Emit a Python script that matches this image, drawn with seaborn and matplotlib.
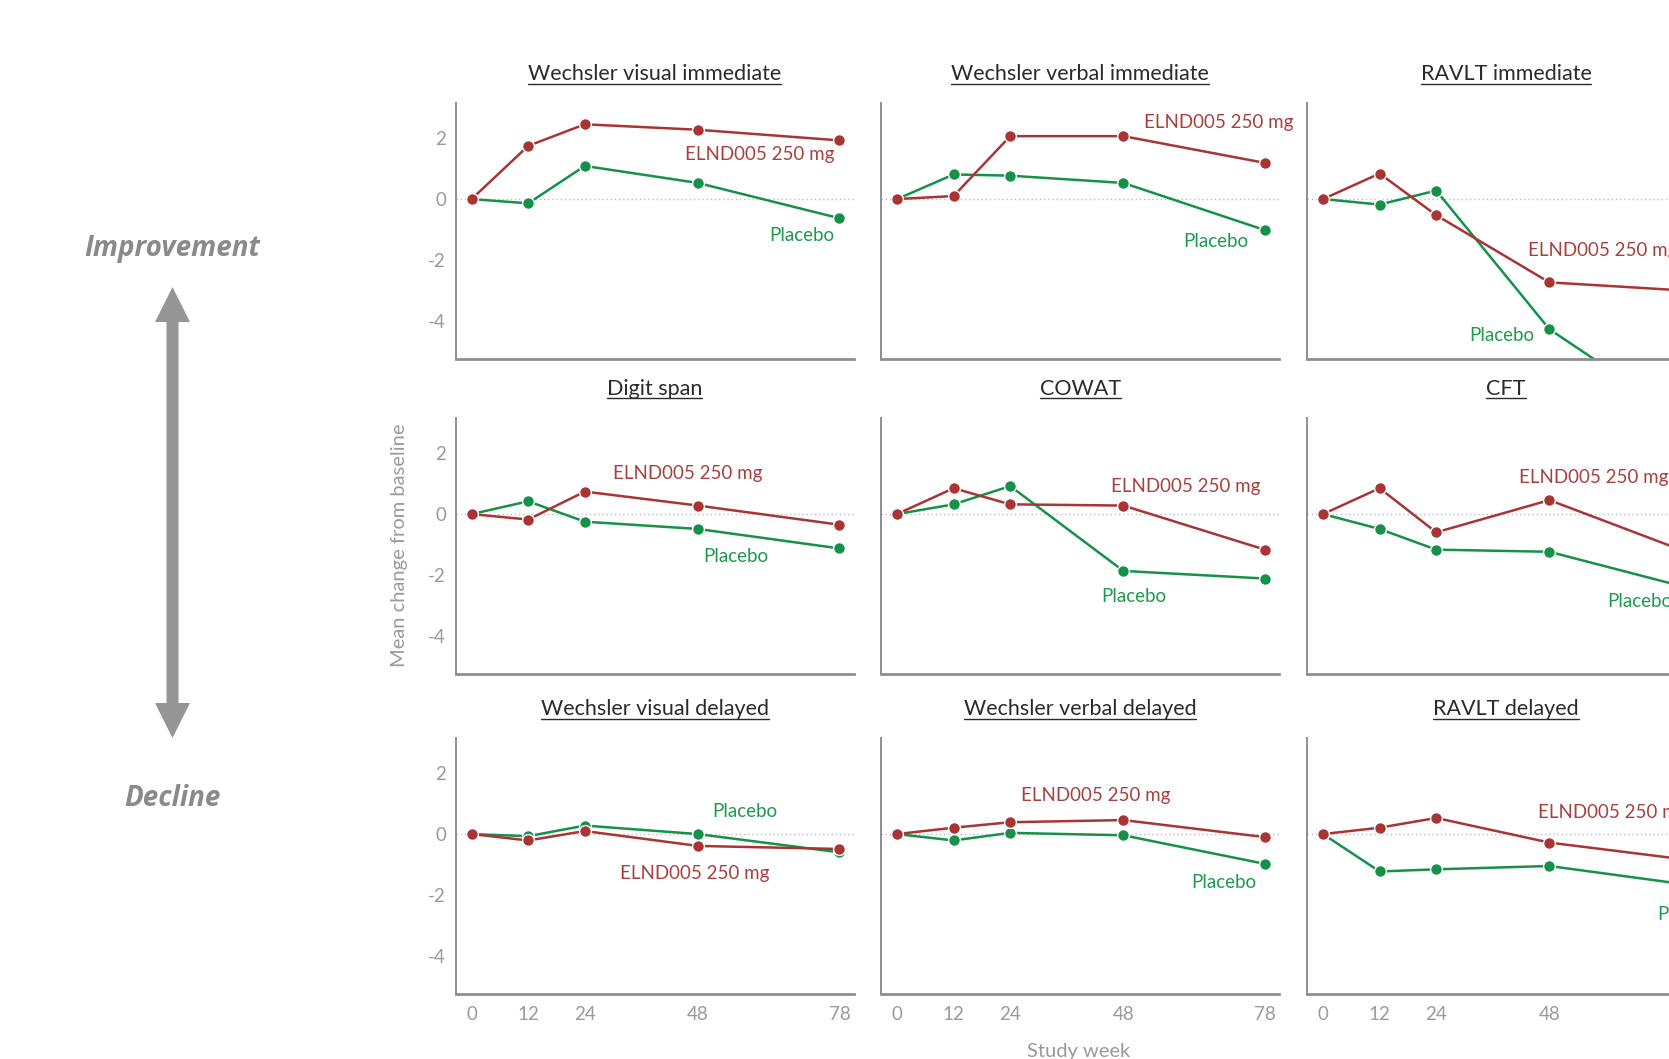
import numpy as np
import pandas as pd
import seaborn as sns
import matplotlib
matplotlib.use("Agg")
import matplotlib.pyplot as plt
from matplotlib.patches import Polygon
from matplotlib.lines import Line2D

# ---------------- data ----------------
weeks = [0, 12, 24, 48, 78]
groups = ["Placebo", "ELND005 250 mg"]
panel_titles = [
    "Wechsler visual immediate", "Wechsler verbal immediate", "RAVLT immediate",
    "Digit span", "COWAT", "CFT",
    "Wechsler visual delayed", "Wechsler verbal delayed", "RAVLT delayed",
]
x_ticks = [0, 12, 24, 48, 78]
y_ticks = [2, 0, -2, -4]

elnd_wechsler_visual_imm = [0, 1.75, 2.46, 2.28, 1.93]
pbo_wechsler_visual_imm = [0, -0.14, 1.09, 0.53, -0.63]
elnd_wechsler_verbal_imm = [0, 0.10, 2.07, 2.07, 1.19]
pbo_wechsler_verbal_imm = [0, 0.81, 0.77, 0.53, -1.02]
elnd_ravlt_imm = [0, 0.84, -0.53, -2.74, -3.02]
pbo_ravlt_imm = [0, -0.18, 0.28, -4.28, -7.4]
elnd_digit_span = [0, -0.18, 0.74, 0.28, -0.35]
pbo_digit_span = [0, 0.42, -0.25, -0.49, -1.13]
elnd_cowat = [0, 0.85, 0.32, 0.28, -1.17]
pbo_cowat = [0, 0.32, 0.92, -1.87, -2.12]
elnd_cft = [0, 0.85, -0.60, 0.46, -1.30]
pbo_cft = [0, -0.49, -1.17, -1.24, -2.45]
elnd_wechsler_visual_del = [0, -0.21, 0.10, -0.39, -0.49]
pbo_wechsler_visual_del = [0, -0.07, 0.28, 0.00, -0.60]
elnd_wechsler_verbal_del = [0, 0.21, 0.39, 0.46, -0.10]
pbo_wechsler_verbal_del = [0, -0.21, 0.04, -0.04, -0.98]
elnd_ravlt_del = [0, 0.21, 0.53, -0.28, -0.86]
pbo_ravlt_del = [0, -1.23, -1.16, -1.05, -1.68]

elnd_series = [elnd_wechsler_visual_imm, elnd_wechsler_verbal_imm, elnd_ravlt_imm,
               elnd_digit_span, elnd_cowat, elnd_cft,
               elnd_wechsler_visual_del, elnd_wechsler_verbal_del, elnd_ravlt_del]
pbo_series = [pbo_wechsler_visual_imm, pbo_wechsler_verbal_imm, pbo_ravlt_imm,
              pbo_digit_span, pbo_cowat, pbo_cft,
              pbo_wechsler_visual_del, pbo_wechsler_verbal_del, pbo_ravlt_del]

# label placement (x week, y value, horizontal alignment) -- styling only
elnd_label_pos = [(77, 1.47, "right"), (84, 2.53, "right"), (43.5, -1.68, "left"),
                  (45.8, 1.34, "center"), (61.3, 0.92, "center"), (41.5, 1.20, "left"),
                  (47.3, -1.30, "center"), (42.2, 1.26, "center"), (45.5, 0.70, "left")]
pbo_label_pos = [(77, -1.19, "right"), (74.6, -1.40, "right"), (44.9, -4.49, "right"),
                 (56.1, -1.41, "center"), (50.3, -2.72, "center"), (60.2, -2.86, "left"),
                 (57.9, 0.74, "center"), (69.2, -1.58, "center"), (70.8, -2.63, "left")]

# ---------------- style ----------------
sns.set_theme(style="white")
plt.rcParams["font.family"] = ["Lato", "DejaVu Sans"]
plt.rcParams["axes.unicode_minus"] = False

RED = "#A93434"
GREEN = "#16914A"
RED_TXT = "#A84040"
GREEN_TXT = "#1C9A4E"
SPINE = "#8E8E8E"
TICK = "#9A9A9A"

W, H = 1669, 1059
fig = plt.figure(figsize=(W / 100, H / 100), dpi=100)

col_left = [455.6, 881.0, 1307.0]
row_top = [103.0, 418.0, 738.0]
pw, ph = 398.0, 256.0
title_off = 23.0

axes = []
titles = []
for i in range(9):
    r, c = divmod(i, 3)
    ax = fig.add_axes([col_left[c] / W, 1 - (row_top[r] + ph) / H, pw / W, ph / H])
    axes.append(ax)
    df = pd.DataFrame({
        "week": weeks * 2,
        "value": pbo_series[i] + elnd_series[i],
        "group": [groups[0]] * len(weeks) + [groups[1]] * len(weeks),
    })
    ax.axhline(0, color="#BDBDBD", lw=1.0, ls=(0, (1, 2)), zorder=0)
    sns.lineplot(data=df, x="week", y="value", hue="group", hue_order=groups,
                 palette={groups[0]: GREEN, groups[1]: RED}, marker="o",
                 markersize=8.5, markeredgecolor="white", markeredgewidth=1.0,
                 linewidth=1.8, legend=False, ax=ax)
    ax.set_xlim(-3.4, 81)
    ax.set_ylim(-5.26, 3.16)
    ax.set_xlabel("")
    ax.set_ylabel("")
    ax.set_xticks(x_ticks)
    ax.set_yticks(y_ticks)
    ax.tick_params(axis="both", length=0, colors=TICK, labelsize=13.5)
    ax.tick_params(axis="x", pad=9)
    ax.tick_params(axis="y", pad=7)
    if c != 0:
        ax.set_yticklabels([])
    if r != 2:
        ax.set_xticklabels([])
    for s in ["top", "right"]:
        ax.spines[s].set_visible(False)
    ax.spines["left"].set_color(SPINE)
    ax.spines["left"].set_linewidth(1.4)
    ax.spines["bottom"].set_color(SPINE)
    ax.spines["bottom"].set_linewidth(2.0)
    # series labels
    ex, ey, eha = elnd_label_pos[i]
    px, py, pha = pbo_label_pos[i]
    ax.text(ex, ey, groups[1], color=RED_TXT, fontsize=13.5, ha=eha, va="center", clip_on=False)
    ax.text(px, py, groups[0], color=GREEN_TXT, fontsize=13.5, ha=pha, va="center", clip_on=False)
    # title (underlined later)
    t = ax.text(0.5, 1 + title_off / ph, panel_titles[i], transform=ax.transAxes, ha="center",
                va="baseline", fontsize=15.5, color="#2B2B2B")
    titles.append((ax, t))

# underline titles
fig.canvas.draw()
renderer = fig.canvas.get_renderer()
for ax, t in titles:
    bb = t.get_window_extent(renderer)
    ybase = ax.transAxes.transform((0.5, 1 + title_off / ph))[1] - 3.5
    fig.add_artist(Line2D([bb.x0 / W, bb.x1 / W], [ybase / H, ybase / H],
                          transform=fig.transFigure, color="#2B2B2B", lw=1.0))

# axis titles
fig.text(399 / W, 1 - 545 / H, "Mean change from baseline", rotation=90, ha="center",
         va="center", color=TICK, fontsize=14.5)
fig.text(1079 / W, 1 - 1052 / H, "Study week", ha="center", va="center",
         color=TICK, fontsize=14.5)

# Improvement / Decline double-headed arrow
GRAY = "#959595"
fig.text(172 / W, 1 - 248 / H, "Improvement", ha="center", va="center", color="#8A8A8A",
         fontsize=20, fontweight="bold", fontstyle="italic", family=["Open Sans", "DejaVu Sans"])
fig.text(172 / W, 1 - 798 / H, "Decline", ha="center", va="center", color="#8A8A8A",
         fontsize=20, fontweight="bold", fontstyle="italic", family=["Open Sans", "DejaVu Sans"])
xc = 172.5 / 100
ytop = (H - 287) / 100
ybot = (H - 738) / 100
hw, sw, hl = 0.175, 0.06, 0.35
arrow_outline = [
    (xc, ytop), (xc + hw, ytop - hl), (xc + sw, ytop - hl),
    (xc + sw, ybot + hl), (xc + hw, ybot + hl), (xc, ybot),
    (xc - hw, ybot + hl), (xc - sw, ybot + hl), (xc - sw, ytop - hl),
    (xc - hw, ytop - hl),
]
fig.add_artist(Polygon(arrow_outline, closed=True, facecolor=GRAY, edgecolor="none",
                       transform=fig.dpi_scale_trans))

fig.savefig("out.png", dpi=100)
